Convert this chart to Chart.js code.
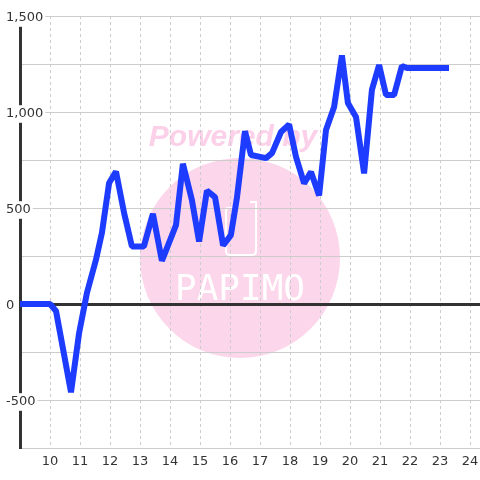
<!DOCTYPE html>
<html>
<head>
<meta charset="utf-8">
<script src="https://cdn.jsdelivr.net/npm/chart.js@4.4.0/dist/chart.umd.min.js"></script>
<style>
  body { margin: 0; background: #fff; }
  #chart { display: block; }
</style>
</head>
<body>
<canvas id="chart" width="480" height="480"></canvas>
<script>
// time of day (hours) and running value
const xValues = [9, 10, 10.2, 10.7, 10.97, 11.23, 11.53, 11.73, 11.97, 12.2, 12.47, 12.73, 13.13, 13.43, 13.73,
    14.2, 14.43, 14.73, 14.97, 15.23, 15.5, 15.77, 16.03, 16.23, 16.5, 16.7, 17.2, 17.4, 17.7, 17.97,
    18.2, 18.47, 18.7, 18.97, 19.2, 19.47, 19.73, 19.93, 20.2, 20.47, 20.73, 20.97, 21.2, 21.47, 21.73, 21.9, 23.2];
const yValues = [0, 0, -36, -460, -151, 57, 229, 370, 630, 690, 474, 300, 300, 470, 225,
    411, 730, 542, 325, 590, 557, 305, 359, 552, 900, 776, 760, 786, 896, 935,
    766, 628, 688, 565, 906, 1026, 1295, 1047, 974, 680, 1115, 1245, 1089, 1089, 1240, 1229, 1229];

// hour ticks (9 sits on the y axis and has no label)
const xTicks = [9, 10, 11, 12, 13, 14, 15, 16, 17, 18, 19, 20, 21, 22, 23, 24];
const xMin = 9, xMax = 24 + 1 / 3;
const yMin = -750, yMax = 1500;
const yGridStep = 250;
const yLabelStep = 500;

const points = xValues.map((x, i) => ({ x: x, y: yValues[i] }));

// pink "Powered by PAPIMO" mark behind the grid
const watermark = {
    id: 'watermark',
    beforeDraw(chart) {
        const ctx = chart.ctx;
        ctx.save();
        ctx.fillStyle = '#fcd6ea';
        ctx.beginPath();
        ctx.arc(240, 258, 100, 0, Math.PI * 2);
        ctx.fill();

        ctx.fillStyle = '#fbd0e8';
        ctx.font = 'bold italic 30px "Liberation Sans"';
        ctx.textAlign = 'center';
        ctx.textBaseline = 'alphabetic';
        ctx.fillText('Powered by', 233, 146);

        ctx.strokeStyle = '#fff';
        ctx.lineWidth = 2;
        ctx.beginPath();
        ctx.moveTo(236, 208);
        ctx.lineTo(228, 208);
        ctx.quadraticCurveTo(226, 208, 226, 212);
        ctx.lineTo(226, 251);
        ctx.quadraticCurveTo(226, 255, 230, 255);
        ctx.lineTo(252, 255);
        ctx.quadraticCurveTo(256, 255, 256, 251);
        ctx.lineTo(256, 202);
        ctx.lineTo(250, 202);
        ctx.stroke();

        ctx.fillStyle = '#fff';
        ctx.font = '36px "DejaVu Sans Mono"';
        ctx.fillText('PAPIMO', 240, 300);
        ctx.restore();
    }
};

// y labels sit a touch lower than Chart.js centres them
const nudgeYLabels = {
    id: 'nudgeYLabels',
    afterLayout(chart) {
        const scale = chart.scales.y;
        if (scale._nudged) return;
        const orig = scale.drawLabels;
        scale.drawLabels = function (area) {
            this.ctx.save();
            this.ctx.translate(0, 2);
            orig.call(this, area);
            this.ctx.restore();
        };
        scale._nudged = true;
    }
};

const ctx = document.getElementById('chart').getContext('2d');
new Chart(ctx, {
    type: 'line',
    data: {
        datasets: [{
            data: points,
            borderColor: '#1e3cff',
            borderWidth: 6,
            borderJoinStyle: 'bevel',
            borderCapStyle: 'square',
            pointRadius: 0,
            tension: 0,
            fill: false
        }]
    },
    options: {
        responsive: false,
        animation: false,
        layout: { padding: { top: 16, left: 0, right: 0, bottom: 0 } },
        plugins: {
            legend: { display: false },
            tooltip: { enabled: false }
        },
        scales: {
            x: {
                type: 'linear',
                min: xMin,
                max: xMax,
                afterFit: s => {
                    s.height = 32;
                    s.paddingLeft = 0;
                    s.paddingRight = 0;
                },
                afterBuildTicks: s => {
                    s.ticks = xTicks.map(v => ({ value: v }));
                },
                grid: {
                    color: '#cccccc',
                    lineWidth: 1,
                    drawTicks: false
                },
                border: { display: true, color: '#cccccc', width: 1, dash: [3, 3] },
                ticks: {
                    autoSkip: false,
                    maxRotation: 0,
                    padding: 6,
                    color: '#333',
                    font: { family: '"DejaVu Sans"', size: 13 },
                    callback: v => (v === xMin ? '' : v)
                }
            },
            y: {
                type: 'linear',
                min: yMin,
                max: yMax,
                afterFit: s => { s.width = 20; },
                grid: {
                    drawTicks: false,
                    color: c => (c.tick && c.tick.value === 0 ? '#333' : '#cccccc'),
                    lineWidth: c => (c.tick && c.tick.value === 0 ? 3 : 1)
                },
                border: { display: true, color: '#333', width: 3 },
                ticks: {
                    stepSize: yGridStep,
                    mirror: true,
                    padding: -14,
                    color: '#333',
                    font: { family: '"DejaVu Sans"', size: 13 },
                    showLabelBackdrop: true,
                    backdropColor: '#ffffff',
                    backdropPadding: { x: 2, y: 1 },
                    callback: v => (v % yLabelStep === 0 ? v.toLocaleString('en-US') : '')
                }
            }
        }
    },
    plugins: [watermark, nudgeYLabels]
});
</script>
</body>
</html>
